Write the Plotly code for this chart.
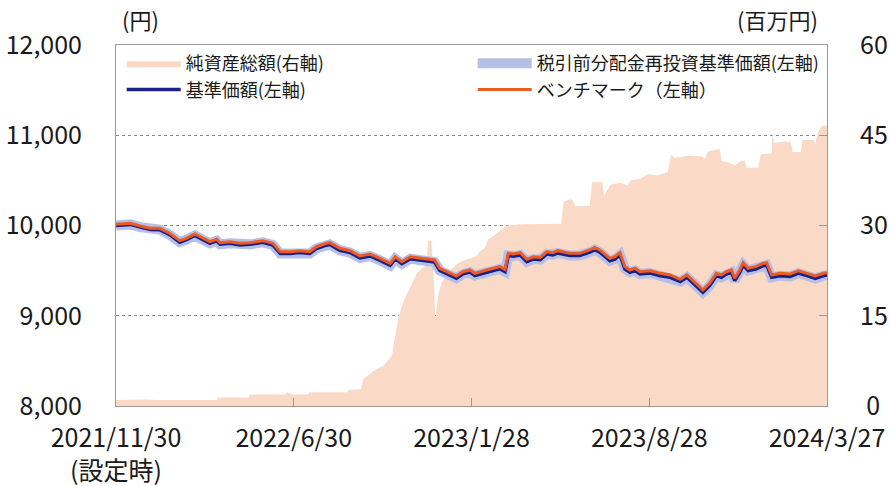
import plotly.graph_objects as go

# ---------------- data ----------------
line_dates = [
    "2021-11-30", "2021-12-17", "2021-12-29", "2022-01-10", "2022-01-21", "2022-02-02", "2022-02-14",
    "2022-02-22", "2022-03-04", "2022-03-14", "2022-03-22", "2022-03-30", "2022-04-03", "2022-04-15",
    "2022-04-27", "2022-05-09", "2022-05-24", "2022-06-05", "2022-06-14", "2022-06-26", "2022-07-07",
    "2022-07-19", "2022-07-27", "2022-08-08", "2022-08-12", "2022-08-24", "2022-09-05", "2022-09-17",
    "2022-09-29", "2022-10-11", "2022-10-23", "2022-10-29", "2022-11-06", "2022-11-16", "2022-11-28",
    "2022-12-10", "2022-12-15", "2022-12-21", "2023-01-02", "2023-01-10", "2023-01-18", "2023-01-26",
    "2023-02-01", "2023-02-07", "2023-02-15", "2023-02-23", "2023-03-03", "2023-03-09", "2023-03-13",
    "2023-03-19", "2023-03-27", "2023-04-04", "2023-04-12", "2023-04-20", "2023-04-28", "2023-05-05",
    "2023-05-11", "2023-05-25", "2023-06-06", "2023-06-18", "2023-06-24", "2023-06-30", "2023-07-06",
    "2023-07-12", "2023-07-18", "2023-07-24", "2023-07-30", "2023-08-05", "2023-08-11", "2023-08-17",
    "2023-08-29", "2023-09-10", "2023-09-22", "2023-10-04", "2023-10-12", "2023-10-20", "2023-10-31",
    "2023-11-08", "2023-11-16", "2023-11-22", "2023-11-28", "2023-12-04", "2023-12-08", "2023-12-14",
    "2023-12-18", "2023-12-24", "2024-01-02", "2024-01-11", "2024-01-15", "2024-01-21", "2024-01-31",
    "2024-02-12", "2024-02-22", "2024-03-03", "2024-03-13", "2024-03-23", "2024-03-27",
]

benchmark = [
    10015, 10024, 9994, 9969, 9969, 9914, 9832,
    9858, 9906, 9858, 9821, 9847, 9810, 9821,
    9803, 9810, 9832, 9803, 9710, 9710, 9721,
    9710, 9765, 9803, 9810, 9747, 9721, 9662,
    9684, 9636, 9581, 9654, 9599, 9654, 9636,
    9625, 9618, 9526, 9470, 9440, 9488, 9507,
    9470, 9488, 9507, 9526, 9544, 9514, 9692,
    9684, 9699, 9625, 9654, 9647, 9710, 9699,
    9721, 9692, 9692, 9729, 9758, 9729, 9684,
    9636, 9654, 9699, 9544, 9507, 9526, 9488,
    9499, 9470, 9452, 9404, 9452, 9377, 9285,
    9359, 9470, 9452, 9488, 9507, 9415, 9507,
    9588, 9526, 9544, 9581, 9588, 9452, 9470,
    9462, 9499, 9470, 9440, 9470, 9477,
]

nav = [
    10000, 10012, 9982, 9955, 9954, 9898, 9815,
    9842, 9890, 9840, 9803, 9830, 9792, 9803,
    9785, 9791, 9813, 9784, 9690, 9691, 9702,
    9690, 9745, 9782, 9790, 9726, 9700, 9640,
    9662, 9614, 9558, 9632, 9576, 9631, 9613,
    9602, 9595, 9502, 9446, 9416, 9464, 9483,
    9446, 9463, 9482, 9501, 9519, 9489, 9667,
    9659, 9674, 9600, 9629, 9622, 9685, 9674,
    9696, 9667, 9667, 9704, 9733, 9704, 9659,
    9610, 9628, 9673, 9518, 9481, 9500, 9462,
    9473, 9444, 9426, 9378, 9426, 9351, 9259,
    9333, 9444, 9426, 9462, 9481, 9389, 9481,
    9562, 9500, 9518, 9555, 9562, 9426, 9444,
    9436, 9473, 9444, 9414, 9444, 9451,
]

# 税引前分配金再投資基準価額 (no distributions -> same as NAV)
nav_reinvested = list(nav)

asset_dates = [
    "2021-11-30", "2022-01-03", "2022-01-19", "2022-03-30", "2022-04-01", "2022-05-07", "2022-05-09",
    "2022-06-20", "2022-06-22", "2022-06-29", "2022-07-17", "2022-07-19", "2022-09-01", "2022-09-05",
    "2022-09-18", "2022-09-21", "2022-10-03", "2022-10-14", "2022-10-25", "2022-10-29", "2022-11-02",
    "2022-11-08", "2022-11-16", "2022-11-24", "2022-12-02", "2022-12-06", "2022-12-07", "2022-12-11",
    "2022-12-13", "2022-12-16", "2022-12-19", "2022-12-23", "2023-01-02", "2023-01-10", "2023-01-18",
    "2023-02-03", "2023-02-07", "2023-02-13", "2023-02-17", "2023-02-23", "2023-03-01", "2023-03-11",
    "2023-03-30", "2023-05-15", "2023-05-18", "2023-05-28", "2023-06-01", "2023-06-18", "2023-06-21",
    "2023-07-03", "2023-07-05", "2023-07-13", "2023-07-25", "2023-08-02", "2023-08-06", "2023-08-18",
    "2023-08-26", "2023-09-07", "2023-09-19", "2023-09-23", "2023-09-27", "2023-10-13", "2023-10-29",
    "2023-11-02", "2023-11-06", "2023-11-20", "2023-11-22", "2023-11-30", "2023-12-08", "2023-12-16",
    "2023-12-20", "2023-12-22", "2024-01-05", "2024-01-08", "2024-01-21", "2024-01-22", "2024-01-24",
    "2024-02-06", "2024-02-13", "2024-02-15", "2024-02-25", "2024-02-27", "2024-03-11", "2024-03-13",
    "2024-03-16", "2024-03-21", "2024-03-27",
]

net_assets = [
    1.0, 1.1, 1.0, 1.0, 1.4, 1.4, 1.9,
    1.9, 2.3, 1.9, 1.9, 2.3, 2.3, 2.7,
    2.8, 4.5, 5.8, 6.6, 8.3, 11.6, 14.9,
    17.4, 19.9, 22.1, 23.1, 23.5, 27.5, 27.5,
    23.8, 14.1, 18.2, 20.5, 22.5, 23.5, 24.2,
    24.9, 25.7, 26.3, 27.7, 28.2, 28.9, 30.0,
    30.2, 30.3, 34.0, 34.4, 33.2, 33.3, 37.2,
    37.2, 35.0, 36.8, 37.1, 36.6, 37.5, 37.8,
    38.5, 38.3, 38.9, 41.8, 41.2, 41.6, 41.5,
    41.1, 42.3, 42.7, 40.7, 40.5, 40.0, 40.7,
    40.7, 39.6, 39.6, 41.8, 42.0, 45.4, 43.7,
    44.0, 43.8, 42.2, 42.2, 44.2, 44.2, 43.6,
    45.4, 46.6, 46.6,
]

x_tick_dates = ["2021-11-30", "2022-06-30", "2023-01-28", "2023-08-28", "2024-03-27"]
x_tick_text = ["2021/11/30<br>(設定時)", "2022/6/30", "2023/1/28", "2023/8/28", "2024/3/27"]
left_ticks = [8000, 9000, 10000, 11000, 12000]
left_tick_text = ["8,000", "9,000", "10,000", "11,000", "12,000"]
right_ticks = [0, 15, 30, 45, 60]
right_tick_text = ["\u20050", "15", "30", "45", "60"]

# ---------------- style ----------------
FONT = "Noto Sans CJK JP"
C_AREA = "#FAD9C7"
C_REINV = "#B6C0E6"
C_NAV = "#1C2185"
C_BM = "#EE5A24"
FRAME = "#9a9a9a"

fig = go.Figure()

fig.add_trace(go.Scatter(
    x=asset_dates, y=net_assets, name="純資産総額(右軸)", yaxis="y",
    mode="lines", line=dict(width=0, color=C_AREA), fill="tozeroy", fillcolor=C_AREA,
))
fig.add_trace(go.Scatter(
    x=line_dates, y=nav_reinvested, name="税引前分配金再投資基準価額(左軸)", yaxis="y2",
    mode="lines", line=dict(width=10, color=C_REINV),
))
fig.add_trace(go.Scatter(
    x=line_dates, y=nav, name="基準価額(左軸)", yaxis="y2",
    mode="lines", line=dict(width=3.5, color=C_NAV),
))
fig.add_trace(go.Scatter(
    x=line_dates, y=benchmark, name="ベンチマーク（左軸）", yaxis="y2",
    mode="lines", line=dict(width=3, color=C_BM),
))

fig.update_layout(
    width=889, height=486,
    margin=dict(l=116, r=62, t=45, b=80, autoexpand=False),
    paper_bgcolor="white", plot_bgcolor="white",
    font=dict(family=FONT, size=25, color="#1a1a1a"),
    showlegend=True,
    legend=dict(
        orientation="h", x=0.008, y=1.0, xanchor="left", yanchor="top",
        entrywidth=282, entrywidthmode="pixels", itemwidth=54, traceorder="normal",
        font=dict(family=FONT, size=18, color="#1a1a1a"),
        bgcolor="rgba(0,0,0,0)", borderwidth=0,
    ),
    xaxis=dict(
        type="date", range=["2021-11-30", "2024-03-27"],
        tickvals=x_tick_dates, ticktext=x_tick_text,
        ticks="inside", ticklen=8, tickcolor=FRAME, tickwidth=1,
        showline=True, linecolor=FRAME, linewidth=1, mirror=True,
        showgrid=False, zeroline=False, ticklabelstandoff=10, automargin=False,
    ),
    yaxis=dict(
        range=[0, 60], side="right", tickvals=right_ticks, ticktext=right_tick_text,
        ticks="inside", ticklen=8, tickcolor=FRAME,
        showgrid=True, gridcolor="#888888", griddash="dot", gridwidth=1,
        showline=True, linecolor=FRAME, linewidth=1, mirror=True,
        zeroline=False, ticklabelstandoff=27, automargin=False,
    ),
    yaxis2=dict(
        range=[8000, 12000], side="left", overlaying="y",
        tickvals=left_ticks, ticktext=left_tick_text,
        showgrid=False, zeroline=False, showline=False, ticks="",
        ticklabelstandoff=33, automargin=False,
    ),
    annotations=[
        dict(text="(円)", xref="paper", yref="paper", x=0.034, y=1.072,
             xanchor="center", yanchor="middle", showarrow=False, font=dict(size=22)),
        dict(text="(百万円)", xref="paper", yref="paper", x=0.931, y=1.072,
             xanchor="center", yanchor="middle", showarrow=False, font=dict(size=22)),
    ],
)

# remove the default 8px page margin so the 889x486 figure fills the window exactly
fig.write_html(
    "out.html",
    config={"displayModeBar": False},
    post_script="document.body.style.margin='0';",
)
